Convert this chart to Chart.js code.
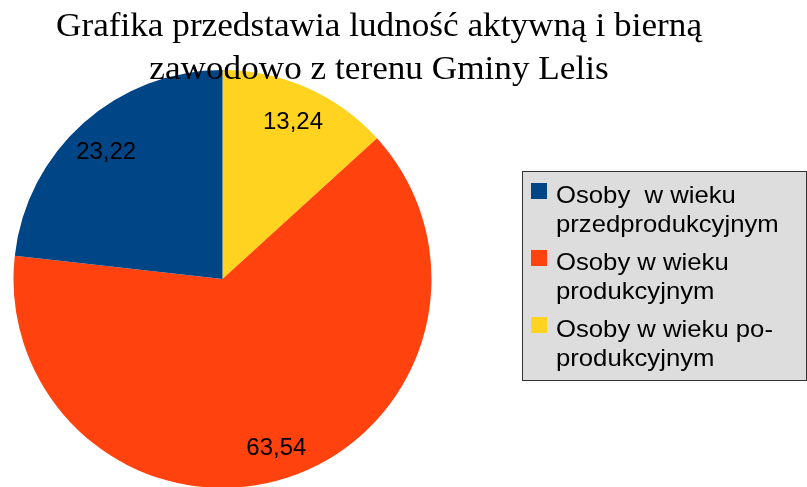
<!DOCTYPE html>
<html>
<head>
<meta charset="utf-8">
<script src="https://cdn.jsdelivr.net/npm/chart.js@4/dist/chart.umd.min.js"></script>
<style>
   html, body { margin: 0; padding: 0; background: #fff; overflow: hidden; }
   #wrap { position: relative; width: 807px; height: 490px; }
</style>
</head>
<body>
<div id="wrap"><canvas id="chartLudnosc"></canvas></div>
<script>
// dane (kolejnosc jak w legendzie)
const categories = [
   ['Osoby  w wieku', 'przedprodukcyjnym'],
   ['Osoby w wieku', 'produkcyjnym'],
   ['Osoby w wieku po-', 'produkcyjnym']
];
const values = [23.22, 63.54, 13.24];
const colors = ['#004586', '#ff420e', '#ffd320'];
const titleLines = ['Grafika przedstawia ludność aktywną i bierną', 'zawodowo z terenu Gminy Lelis'];

const FORMAT_PL = v => v.toFixed(2).replace('.', ',');

// wykres rysuje zgodnie z ruchem wskazowek, wiec odwracamy kolejnosc
const pieLabels = categories.slice().reverse();
const pieValues = values.slice().reverse();
const pieColors = colors.slice().reverse();

const titlePlugin = {
   id: 'tytul',
   afterDraw(chart) {
      const ctx = chart.ctx;
      ctx.save();
      ctx.fillStyle = '#000';
      ctx.font = "33px 'Liberation Serif', 'DejaVu Serif', serif";
      ctx.textAlign = 'center';
      ctx.textBaseline = 'alphabetic';
      // tekst w oryginale jest lekko rozciagniety w poziomie
      const sx = 646 / ctx.measureText(titleLines[0]).width;
      [36, 79].forEach((y, i) => {
         ctx.save();
         ctx.translate(379, y);
         ctx.scale(sx, 1);
         ctx.fillText(titleLines[i], 0, 0);
         ctx.restore();
      });
      ctx.restore();
   }
};

const valuesPlugin = {
   id: 'wartosci',
   afterDatasetsDraw(chart) {
      const ctx = chart.ctx;
      const meta = chart.getDatasetMeta(0);
      ctx.save();
      ctx.fillStyle = '#000';
      ctx.font = "24px 'Liberation Sans', Arial, sans-serif";
      ctx.textAlign = 'center';
      ctx.textBaseline = 'middle';
      meta.data.forEach((arc, i) => {
         const p = arc.getProps(['x', 'y', 'startAngle', 'endAngle', 'outerRadius'], true);
         const mid = (p.startAngle + p.endAngle) / 2;
         const r = p.outerRadius * 0.835;
         ctx.fillText(FORMAT_PL(pieValues[i]), p.x + Math.cos(mid) * r, p.y + Math.sin(mid) * r + 3);
      });
      ctx.restore();
   }
};

const legendPlugin = {
   id: 'legenda',
   afterDraw(chart) {
      const ctx = chart.ctx;
      const x0 = 522.5, y0 = 171.5, w = 284, h = 209;
      ctx.save();
      ctx.fillStyle = '#dddddd';
      ctx.fillRect(x0, y0, w, h);
      ctx.strokeStyle = '#333333';
      ctx.lineWidth = 1;
      ctx.strokeRect(x0, y0, w, h);
      ctx.font = "24px 'Liberation Sans', Arial, sans-serif";
      ctx.textAlign = 'left';
      ctx.textBaseline = 'alphabetic';
      categories.forEach((lines, i) => {
         const base = 203 + i * 67;
         ctx.fillStyle = colors[i];
         ctx.fillRect(531, base - 20, 16, 16);
         ctx.fillStyle = '#000';
         lines.forEach((t, j) => {
            ctx.save();
            ctx.translate(556, base + j * 29);
            ctx.scale(1.07, 1);
            ctx.fillText(t, 0, 0);
            ctx.restore();
         });
      });
      ctx.restore();
   }
};

const ctx = document.getElementById('chartLudnosc').getContext('2d');
const chartLudnosc = new Chart(ctx, {
   type: 'pie',
   data: {
      labels: pieLabels.map(l => l.join(' ')),
      datasets: [{
         data: pieValues,
         backgroundColor: pieColors,
         borderWidth: 0,
      }]
   },
   options: {
      responsive: true,
      maintainAspectRatio: false,
      animation: false,
      rotation: 0,
      layout: {
         padding: { left: 13, right: 375, top: 70, bottom: 2 }
      },
      plugins: {
         legend: { display: false },
         title: { display: false },
         tooltip: { enabled: false }
      }
   },
   plugins: [titlePlugin, valuesPlugin, legendPlugin]
});
</script>
</body>
</html>
